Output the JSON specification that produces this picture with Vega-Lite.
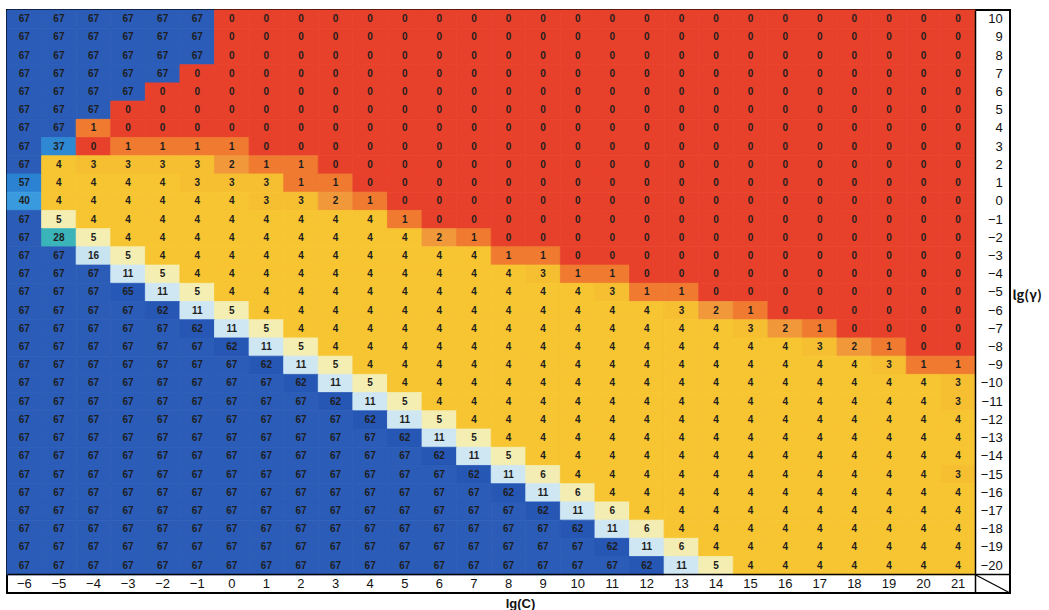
{
"$schema":"https://vega.github.io/schema/vega-lite/v6.json",
"width":1003,"height":583,"autosize":"none",
"padding":{"left":7,"top":10,"right":39,"bottom":17},
"background":"white",
"config":{"view":{"stroke":"black","strokeWidth":2},"font":"Liberation Sans"},
"data":{"values":[
{"C":-6,"g":10,"v":67},{"C":-5,"g":10,"v":67},{"C":-4,"g":10,"v":67},{"C":-3,"g":10,"v":67},{"C":-2,"g":10,"v":67},{"C":-1,"g":10,"v":67},{"C":0,"g":10,"v":0},{"C":1,"g":10,"v":0},{"C":2,"g":10,"v":0},{"C":3,"g":10,"v":0},{"C":4,"g":10,"v":0},{"C":5,"g":10,"v":0},{"C":6,"g":10,"v":0},{"C":7,"g":10,"v":0},{"C":8,"g":10,"v":0},{"C":9,"g":10,"v":0},{"C":10,"g":10,"v":0},{"C":11,"g":10,"v":0},{"C":12,"g":10,"v":0},{"C":13,"g":10,"v":0},{"C":14,"g":10,"v":0},{"C":15,"g":10,"v":0},{"C":16,"g":10,"v":0},{"C":17,"g":10,"v":0},{"C":18,"g":10,"v":0},{"C":19,"g":10,"v":0},{"C":20,"g":10,"v":0},{"C":21,"g":10,"v":0},
{"C":-6,"g":9,"v":67},{"C":-5,"g":9,"v":67},{"C":-4,"g":9,"v":67},{"C":-3,"g":9,"v":67},{"C":-2,"g":9,"v":67},{"C":-1,"g":9,"v":67},{"C":0,"g":9,"v":0},{"C":1,"g":9,"v":0},{"C":2,"g":9,"v":0},{"C":3,"g":9,"v":0},{"C":4,"g":9,"v":0},{"C":5,"g":9,"v":0},{"C":6,"g":9,"v":0},{"C":7,"g":9,"v":0},{"C":8,"g":9,"v":0},{"C":9,"g":9,"v":0},{"C":10,"g":9,"v":0},{"C":11,"g":9,"v":0},{"C":12,"g":9,"v":0},{"C":13,"g":9,"v":0},{"C":14,"g":9,"v":0},{"C":15,"g":9,"v":0},{"C":16,"g":9,"v":0},{"C":17,"g":9,"v":0},{"C":18,"g":9,"v":0},{"C":19,"g":9,"v":0},{"C":20,"g":9,"v":0},{"C":21,"g":9,"v":0},
{"C":-6,"g":8,"v":67},{"C":-5,"g":8,"v":67},{"C":-4,"g":8,"v":67},{"C":-3,"g":8,"v":67},{"C":-2,"g":8,"v":67},{"C":-1,"g":8,"v":67},{"C":0,"g":8,"v":0},{"C":1,"g":8,"v":0},{"C":2,"g":8,"v":0},{"C":3,"g":8,"v":0},{"C":4,"g":8,"v":0},{"C":5,"g":8,"v":0},{"C":6,"g":8,"v":0},{"C":7,"g":8,"v":0},{"C":8,"g":8,"v":0},{"C":9,"g":8,"v":0},{"C":10,"g":8,"v":0},{"C":11,"g":8,"v":0},{"C":12,"g":8,"v":0},{"C":13,"g":8,"v":0},{"C":14,"g":8,"v":0},{"C":15,"g":8,"v":0},{"C":16,"g":8,"v":0},{"C":17,"g":8,"v":0},{"C":18,"g":8,"v":0},{"C":19,"g":8,"v":0},{"C":20,"g":8,"v":0},{"C":21,"g":8,"v":0},
{"C":-6,"g":7,"v":67},{"C":-5,"g":7,"v":67},{"C":-4,"g":7,"v":67},{"C":-3,"g":7,"v":67},{"C":-2,"g":7,"v":67},{"C":-1,"g":7,"v":0},{"C":0,"g":7,"v":0},{"C":1,"g":7,"v":0},{"C":2,"g":7,"v":0},{"C":3,"g":7,"v":0},{"C":4,"g":7,"v":0},{"C":5,"g":7,"v":0},{"C":6,"g":7,"v":0},{"C":7,"g":7,"v":0},{"C":8,"g":7,"v":0},{"C":9,"g":7,"v":0},{"C":10,"g":7,"v":0},{"C":11,"g":7,"v":0},{"C":12,"g":7,"v":0},{"C":13,"g":7,"v":0},{"C":14,"g":7,"v":0},{"C":15,"g":7,"v":0},{"C":16,"g":7,"v":0},{"C":17,"g":7,"v":0},{"C":18,"g":7,"v":0},{"C":19,"g":7,"v":0},{"C":20,"g":7,"v":0},{"C":21,"g":7,"v":0},
{"C":-6,"g":6,"v":67},{"C":-5,"g":6,"v":67},{"C":-4,"g":6,"v":67},{"C":-3,"g":6,"v":67},{"C":-2,"g":6,"v":0},{"C":-1,"g":6,"v":0},{"C":0,"g":6,"v":0},{"C":1,"g":6,"v":0},{"C":2,"g":6,"v":0},{"C":3,"g":6,"v":0},{"C":4,"g":6,"v":0},{"C":5,"g":6,"v":0},{"C":6,"g":6,"v":0},{"C":7,"g":6,"v":0},{"C":8,"g":6,"v":0},{"C":9,"g":6,"v":0},{"C":10,"g":6,"v":0},{"C":11,"g":6,"v":0},{"C":12,"g":6,"v":0},{"C":13,"g":6,"v":0},{"C":14,"g":6,"v":0},{"C":15,"g":6,"v":0},{"C":16,"g":6,"v":0},{"C":17,"g":6,"v":0},{"C":18,"g":6,"v":0},{"C":19,"g":6,"v":0},{"C":20,"g":6,"v":0},{"C":21,"g":6,"v":0},
{"C":-6,"g":5,"v":67},{"C":-5,"g":5,"v":67},{"C":-4,"g":5,"v":67},{"C":-3,"g":5,"v":0},{"C":-2,"g":5,"v":0},{"C":-1,"g":5,"v":0},{"C":0,"g":5,"v":0},{"C":1,"g":5,"v":0},{"C":2,"g":5,"v":0},{"C":3,"g":5,"v":0},{"C":4,"g":5,"v":0},{"C":5,"g":5,"v":0},{"C":6,"g":5,"v":0},{"C":7,"g":5,"v":0},{"C":8,"g":5,"v":0},{"C":9,"g":5,"v":0},{"C":10,"g":5,"v":0},{"C":11,"g":5,"v":0},{"C":12,"g":5,"v":0},{"C":13,"g":5,"v":0},{"C":14,"g":5,"v":0},{"C":15,"g":5,"v":0},{"C":16,"g":5,"v":0},{"C":17,"g":5,"v":0},{"C":18,"g":5,"v":0},{"C":19,"g":5,"v":0},{"C":20,"g":5,"v":0},{"C":21,"g":5,"v":0},
{"C":-6,"g":4,"v":67},{"C":-5,"g":4,"v":67},{"C":-4,"g":4,"v":1},{"C":-3,"g":4,"v":0},{"C":-2,"g":4,"v":0},{"C":-1,"g":4,"v":0},{"C":0,"g":4,"v":0},{"C":1,"g":4,"v":0},{"C":2,"g":4,"v":0},{"C":3,"g":4,"v":0},{"C":4,"g":4,"v":0},{"C":5,"g":4,"v":0},{"C":6,"g":4,"v":0},{"C":7,"g":4,"v":0},{"C":8,"g":4,"v":0},{"C":9,"g":4,"v":0},{"C":10,"g":4,"v":0},{"C":11,"g":4,"v":0},{"C":12,"g":4,"v":0},{"C":13,"g":4,"v":0},{"C":14,"g":4,"v":0},{"C":15,"g":4,"v":0},{"C":16,"g":4,"v":0},{"C":17,"g":4,"v":0},{"C":18,"g":4,"v":0},{"C":19,"g":4,"v":0},{"C":20,"g":4,"v":0},{"C":21,"g":4,"v":0},
{"C":-6,"g":3,"v":67},{"C":-5,"g":3,"v":37},{"C":-4,"g":3,"v":0},{"C":-3,"g":3,"v":1},{"C":-2,"g":3,"v":1},{"C":-1,"g":3,"v":1},{"C":0,"g":3,"v":1},{"C":1,"g":3,"v":0},{"C":2,"g":3,"v":0},{"C":3,"g":3,"v":0},{"C":4,"g":3,"v":0},{"C":5,"g":3,"v":0},{"C":6,"g":3,"v":0},{"C":7,"g":3,"v":0},{"C":8,"g":3,"v":0},{"C":9,"g":3,"v":0},{"C":10,"g":3,"v":0},{"C":11,"g":3,"v":0},{"C":12,"g":3,"v":0},{"C":13,"g":3,"v":0},{"C":14,"g":3,"v":0},{"C":15,"g":3,"v":0},{"C":16,"g":3,"v":0},{"C":17,"g":3,"v":0},{"C":18,"g":3,"v":0},{"C":19,"g":3,"v":0},{"C":20,"g":3,"v":0},{"C":21,"g":3,"v":0},
{"C":-6,"g":2,"v":67},{"C":-5,"g":2,"v":4},{"C":-4,"g":2,"v":3},{"C":-3,"g":2,"v":3},{"C":-2,"g":2,"v":3},{"C":-1,"g":2,"v":3},{"C":0,"g":2,"v":2},{"C":1,"g":2,"v":1},{"C":2,"g":2,"v":1},{"C":3,"g":2,"v":0},{"C":4,"g":2,"v":0},{"C":5,"g":2,"v":0},{"C":6,"g":2,"v":0},{"C":7,"g":2,"v":0},{"C":8,"g":2,"v":0},{"C":9,"g":2,"v":0},{"C":10,"g":2,"v":0},{"C":11,"g":2,"v":0},{"C":12,"g":2,"v":0},{"C":13,"g":2,"v":0},{"C":14,"g":2,"v":0},{"C":15,"g":2,"v":0},{"C":16,"g":2,"v":0},{"C":17,"g":2,"v":0},{"C":18,"g":2,"v":0},{"C":19,"g":2,"v":0},{"C":20,"g":2,"v":0},{"C":21,"g":2,"v":0},
{"C":-6,"g":1,"v":57},{"C":-5,"g":1,"v":4},{"C":-4,"g":1,"v":4},{"C":-3,"g":1,"v":4},{"C":-2,"g":1,"v":4},{"C":-1,"g":1,"v":3},{"C":0,"g":1,"v":3},{"C":1,"g":1,"v":3},{"C":2,"g":1,"v":1},{"C":3,"g":1,"v":1},{"C":4,"g":1,"v":0},{"C":5,"g":1,"v":0},{"C":6,"g":1,"v":0},{"C":7,"g":1,"v":0},{"C":8,"g":1,"v":0},{"C":9,"g":1,"v":0},{"C":10,"g":1,"v":0},{"C":11,"g":1,"v":0},{"C":12,"g":1,"v":0},{"C":13,"g":1,"v":0},{"C":14,"g":1,"v":0},{"C":15,"g":1,"v":0},{"C":16,"g":1,"v":0},{"C":17,"g":1,"v":0},{"C":18,"g":1,"v":0},{"C":19,"g":1,"v":0},{"C":20,"g":1,"v":0},{"C":21,"g":1,"v":0},
{"C":-6,"g":0,"v":40},{"C":-5,"g":0,"v":4},{"C":-4,"g":0,"v":4},{"C":-3,"g":0,"v":4},{"C":-2,"g":0,"v":4},{"C":-1,"g":0,"v":4},{"C":0,"g":0,"v":4},{"C":1,"g":0,"v":3},{"C":2,"g":0,"v":3},{"C":3,"g":0,"v":2},{"C":4,"g":0,"v":1},{"C":5,"g":0,"v":0},{"C":6,"g":0,"v":0},{"C":7,"g":0,"v":0},{"C":8,"g":0,"v":0},{"C":9,"g":0,"v":0},{"C":10,"g":0,"v":0},{"C":11,"g":0,"v":0},{"C":12,"g":0,"v":0},{"C":13,"g":0,"v":0},{"C":14,"g":0,"v":0},{"C":15,"g":0,"v":0},{"C":16,"g":0,"v":0},{"C":17,"g":0,"v":0},{"C":18,"g":0,"v":0},{"C":19,"g":0,"v":0},{"C":20,"g":0,"v":0},{"C":21,"g":0,"v":0},
{"C":-6,"g":-1,"v":67},{"C":-5,"g":-1,"v":5},{"C":-4,"g":-1,"v":4},{"C":-3,"g":-1,"v":4},{"C":-2,"g":-1,"v":4},{"C":-1,"g":-1,"v":4},{"C":0,"g":-1,"v":4},{"C":1,"g":-1,"v":4},{"C":2,"g":-1,"v":4},{"C":3,"g":-1,"v":4},{"C":4,"g":-1,"v":4},{"C":5,"g":-1,"v":1},{"C":6,"g":-1,"v":0},{"C":7,"g":-1,"v":0},{"C":8,"g":-1,"v":0},{"C":9,"g":-1,"v":0},{"C":10,"g":-1,"v":0},{"C":11,"g":-1,"v":0},{"C":12,"g":-1,"v":0},{"C":13,"g":-1,"v":0},{"C":14,"g":-1,"v":0},{"C":15,"g":-1,"v":0},{"C":16,"g":-1,"v":0},{"C":17,"g":-1,"v":0},{"C":18,"g":-1,"v":0},{"C":19,"g":-1,"v":0},{"C":20,"g":-1,"v":0},{"C":21,"g":-1,"v":0},
{"C":-6,"g":-2,"v":67},{"C":-5,"g":-2,"v":28},{"C":-4,"g":-2,"v":5},{"C":-3,"g":-2,"v":4},{"C":-2,"g":-2,"v":4},{"C":-1,"g":-2,"v":4},{"C":0,"g":-2,"v":4},{"C":1,"g":-2,"v":4},{"C":2,"g":-2,"v":4},{"C":3,"g":-2,"v":4},{"C":4,"g":-2,"v":4},{"C":5,"g":-2,"v":4},{"C":6,"g":-2,"v":2},{"C":7,"g":-2,"v":1},{"C":8,"g":-2,"v":0},{"C":9,"g":-2,"v":0},{"C":10,"g":-2,"v":0},{"C":11,"g":-2,"v":0},{"C":12,"g":-2,"v":0},{"C":13,"g":-2,"v":0},{"C":14,"g":-2,"v":0},{"C":15,"g":-2,"v":0},{"C":16,"g":-2,"v":0},{"C":17,"g":-2,"v":0},{"C":18,"g":-2,"v":0},{"C":19,"g":-2,"v":0},{"C":20,"g":-2,"v":0},{"C":21,"g":-2,"v":0},
{"C":-6,"g":-3,"v":67},{"C":-5,"g":-3,"v":67},{"C":-4,"g":-3,"v":16},{"C":-3,"g":-3,"v":5},{"C":-2,"g":-3,"v":4},{"C":-1,"g":-3,"v":4},{"C":0,"g":-3,"v":4},{"C":1,"g":-3,"v":4},{"C":2,"g":-3,"v":4},{"C":3,"g":-3,"v":4},{"C":4,"g":-3,"v":4},{"C":5,"g":-3,"v":4},{"C":6,"g":-3,"v":4},{"C":7,"g":-3,"v":4},{"C":8,"g":-3,"v":1},{"C":9,"g":-3,"v":1},{"C":10,"g":-3,"v":0},{"C":11,"g":-3,"v":0},{"C":12,"g":-3,"v":0},{"C":13,"g":-3,"v":0},{"C":14,"g":-3,"v":0},{"C":15,"g":-3,"v":0},{"C":16,"g":-3,"v":0},{"C":17,"g":-3,"v":0},{"C":18,"g":-3,"v":0},{"C":19,"g":-3,"v":0},{"C":20,"g":-3,"v":0},{"C":21,"g":-3,"v":0},
{"C":-6,"g":-4,"v":67},{"C":-5,"g":-4,"v":67},{"C":-4,"g":-4,"v":67},{"C":-3,"g":-4,"v":11},{"C":-2,"g":-4,"v":5},{"C":-1,"g":-4,"v":4},{"C":0,"g":-4,"v":4},{"C":1,"g":-4,"v":4},{"C":2,"g":-4,"v":4},{"C":3,"g":-4,"v":4},{"C":4,"g":-4,"v":4},{"C":5,"g":-4,"v":4},{"C":6,"g":-4,"v":4},{"C":7,"g":-4,"v":4},{"C":8,"g":-4,"v":4},{"C":9,"g":-4,"v":3},{"C":10,"g":-4,"v":1},{"C":11,"g":-4,"v":1},{"C":12,"g":-4,"v":0},{"C":13,"g":-4,"v":0},{"C":14,"g":-4,"v":0},{"C":15,"g":-4,"v":0},{"C":16,"g":-4,"v":0},{"C":17,"g":-4,"v":0},{"C":18,"g":-4,"v":0},{"C":19,"g":-4,"v":0},{"C":20,"g":-4,"v":0},{"C":21,"g":-4,"v":0},
{"C":-6,"g":-5,"v":67},{"C":-5,"g":-5,"v":67},{"C":-4,"g":-5,"v":67},{"C":-3,"g":-5,"v":65},{"C":-2,"g":-5,"v":11},{"C":-1,"g":-5,"v":5},{"C":0,"g":-5,"v":4},{"C":1,"g":-5,"v":4},{"C":2,"g":-5,"v":4},{"C":3,"g":-5,"v":4},{"C":4,"g":-5,"v":4},{"C":5,"g":-5,"v":4},{"C":6,"g":-5,"v":4},{"C":7,"g":-5,"v":4},{"C":8,"g":-5,"v":4},{"C":9,"g":-5,"v":4},{"C":10,"g":-5,"v":4},{"C":11,"g":-5,"v":3},{"C":12,"g":-5,"v":1},{"C":13,"g":-5,"v":1},{"C":14,"g":-5,"v":0},{"C":15,"g":-5,"v":0},{"C":16,"g":-5,"v":0},{"C":17,"g":-5,"v":0},{"C":18,"g":-5,"v":0},{"C":19,"g":-5,"v":0},{"C":20,"g":-5,"v":0},{"C":21,"g":-5,"v":0},
{"C":-6,"g":-6,"v":67},{"C":-5,"g":-6,"v":67},{"C":-4,"g":-6,"v":67},{"C":-3,"g":-6,"v":67},{"C":-2,"g":-6,"v":62},{"C":-1,"g":-6,"v":11},{"C":0,"g":-6,"v":5},{"C":1,"g":-6,"v":4},{"C":2,"g":-6,"v":4},{"C":3,"g":-6,"v":4},{"C":4,"g":-6,"v":4},{"C":5,"g":-6,"v":4},{"C":6,"g":-6,"v":4},{"C":7,"g":-6,"v":4},{"C":8,"g":-6,"v":4},{"C":9,"g":-6,"v":4},{"C":10,"g":-6,"v":4},{"C":11,"g":-6,"v":4},{"C":12,"g":-6,"v":4},{"C":13,"g":-6,"v":3},{"C":14,"g":-6,"v":2},{"C":15,"g":-6,"v":1},{"C":16,"g":-6,"v":0},{"C":17,"g":-6,"v":0},{"C":18,"g":-6,"v":0},{"C":19,"g":-6,"v":0},{"C":20,"g":-6,"v":0},{"C":21,"g":-6,"v":0},
{"C":-6,"g":-7,"v":67},{"C":-5,"g":-7,"v":67},{"C":-4,"g":-7,"v":67},{"C":-3,"g":-7,"v":67},{"C":-2,"g":-7,"v":67},{"C":-1,"g":-7,"v":62},{"C":0,"g":-7,"v":11},{"C":1,"g":-7,"v":5},{"C":2,"g":-7,"v":4},{"C":3,"g":-7,"v":4},{"C":4,"g":-7,"v":4},{"C":5,"g":-7,"v":4},{"C":6,"g":-7,"v":4},{"C":7,"g":-7,"v":4},{"C":8,"g":-7,"v":4},{"C":9,"g":-7,"v":4},{"C":10,"g":-7,"v":4},{"C":11,"g":-7,"v":4},{"C":12,"g":-7,"v":4},{"C":13,"g":-7,"v":4},{"C":14,"g":-7,"v":4},{"C":15,"g":-7,"v":3},{"C":16,"g":-7,"v":2},{"C":17,"g":-7,"v":1},{"C":18,"g":-7,"v":0},{"C":19,"g":-7,"v":0},{"C":20,"g":-7,"v":0},{"C":21,"g":-7,"v":0},
{"C":-6,"g":-8,"v":67},{"C":-5,"g":-8,"v":67},{"C":-4,"g":-8,"v":67},{"C":-3,"g":-8,"v":67},{"C":-2,"g":-8,"v":67},{"C":-1,"g":-8,"v":67},{"C":0,"g":-8,"v":62},{"C":1,"g":-8,"v":11},{"C":2,"g":-8,"v":5},{"C":3,"g":-8,"v":4},{"C":4,"g":-8,"v":4},{"C":5,"g":-8,"v":4},{"C":6,"g":-8,"v":4},{"C":7,"g":-8,"v":4},{"C":8,"g":-8,"v":4},{"C":9,"g":-8,"v":4},{"C":10,"g":-8,"v":4},{"C":11,"g":-8,"v":4},{"C":12,"g":-8,"v":4},{"C":13,"g":-8,"v":4},{"C":14,"g":-8,"v":4},{"C":15,"g":-8,"v":4},{"C":16,"g":-8,"v":4},{"C":17,"g":-8,"v":3},{"C":18,"g":-8,"v":2},{"C":19,"g":-8,"v":1},{"C":20,"g":-8,"v":0},{"C":21,"g":-8,"v":0},
{"C":-6,"g":-9,"v":67},{"C":-5,"g":-9,"v":67},{"C":-4,"g":-9,"v":67},{"C":-3,"g":-9,"v":67},{"C":-2,"g":-9,"v":67},{"C":-1,"g":-9,"v":67},{"C":0,"g":-9,"v":67},{"C":1,"g":-9,"v":62},{"C":2,"g":-9,"v":11},{"C":3,"g":-9,"v":5},{"C":4,"g":-9,"v":4},{"C":5,"g":-9,"v":4},{"C":6,"g":-9,"v":4},{"C":7,"g":-9,"v":4},{"C":8,"g":-9,"v":4},{"C":9,"g":-9,"v":4},{"C":10,"g":-9,"v":4},{"C":11,"g":-9,"v":4},{"C":12,"g":-9,"v":4},{"C":13,"g":-9,"v":4},{"C":14,"g":-9,"v":4},{"C":15,"g":-9,"v":4},{"C":16,"g":-9,"v":4},{"C":17,"g":-9,"v":4},{"C":18,"g":-9,"v":4},{"C":19,"g":-9,"v":3},{"C":20,"g":-9,"v":1},{"C":21,"g":-9,"v":1},
{"C":-6,"g":-10,"v":67},{"C":-5,"g":-10,"v":67},{"C":-4,"g":-10,"v":67},{"C":-3,"g":-10,"v":67},{"C":-2,"g":-10,"v":67},{"C":-1,"g":-10,"v":67},{"C":0,"g":-10,"v":67},{"C":1,"g":-10,"v":67},{"C":2,"g":-10,"v":62},{"C":3,"g":-10,"v":11},{"C":4,"g":-10,"v":5},{"C":5,"g":-10,"v":4},{"C":6,"g":-10,"v":4},{"C":7,"g":-10,"v":4},{"C":8,"g":-10,"v":4},{"C":9,"g":-10,"v":4},{"C":10,"g":-10,"v":4},{"C":11,"g":-10,"v":4},{"C":12,"g":-10,"v":4},{"C":13,"g":-10,"v":4},{"C":14,"g":-10,"v":4},{"C":15,"g":-10,"v":4},{"C":16,"g":-10,"v":4},{"C":17,"g":-10,"v":4},{"C":18,"g":-10,"v":4},{"C":19,"g":-10,"v":4},{"C":20,"g":-10,"v":4},{"C":21,"g":-10,"v":3},
{"C":-6,"g":-11,"v":67},{"C":-5,"g":-11,"v":67},{"C":-4,"g":-11,"v":67},{"C":-3,"g":-11,"v":67},{"C":-2,"g":-11,"v":67},{"C":-1,"g":-11,"v":67},{"C":0,"g":-11,"v":67},{"C":1,"g":-11,"v":67},{"C":2,"g":-11,"v":67},{"C":3,"g":-11,"v":62},{"C":4,"g":-11,"v":11},{"C":5,"g":-11,"v":5},{"C":6,"g":-11,"v":4},{"C":7,"g":-11,"v":4},{"C":8,"g":-11,"v":4},{"C":9,"g":-11,"v":4},{"C":10,"g":-11,"v":4},{"C":11,"g":-11,"v":4},{"C":12,"g":-11,"v":4},{"C":13,"g":-11,"v":4},{"C":14,"g":-11,"v":4},{"C":15,"g":-11,"v":4},{"C":16,"g":-11,"v":4},{"C":17,"g":-11,"v":4},{"C":18,"g":-11,"v":4},{"C":19,"g":-11,"v":4},{"C":20,"g":-11,"v":4},{"C":21,"g":-11,"v":3},
{"C":-6,"g":-12,"v":67},{"C":-5,"g":-12,"v":67},{"C":-4,"g":-12,"v":67},{"C":-3,"g":-12,"v":67},{"C":-2,"g":-12,"v":67},{"C":-1,"g":-12,"v":67},{"C":0,"g":-12,"v":67},{"C":1,"g":-12,"v":67},{"C":2,"g":-12,"v":67},{"C":3,"g":-12,"v":67},{"C":4,"g":-12,"v":62},{"C":5,"g":-12,"v":11},{"C":6,"g":-12,"v":5},{"C":7,"g":-12,"v":4},{"C":8,"g":-12,"v":4},{"C":9,"g":-12,"v":4},{"C":10,"g":-12,"v":4},{"C":11,"g":-12,"v":4},{"C":12,"g":-12,"v":4},{"C":13,"g":-12,"v":4},{"C":14,"g":-12,"v":4},{"C":15,"g":-12,"v":4},{"C":16,"g":-12,"v":4},{"C":17,"g":-12,"v":4},{"C":18,"g":-12,"v":4},{"C":19,"g":-12,"v":4},{"C":20,"g":-12,"v":4},{"C":21,"g":-12,"v":4},
{"C":-6,"g":-13,"v":67},{"C":-5,"g":-13,"v":67},{"C":-4,"g":-13,"v":67},{"C":-3,"g":-13,"v":67},{"C":-2,"g":-13,"v":67},{"C":-1,"g":-13,"v":67},{"C":0,"g":-13,"v":67},{"C":1,"g":-13,"v":67},{"C":2,"g":-13,"v":67},{"C":3,"g":-13,"v":67},{"C":4,"g":-13,"v":67},{"C":5,"g":-13,"v":62},{"C":6,"g":-13,"v":11},{"C":7,"g":-13,"v":5},{"C":8,"g":-13,"v":4},{"C":9,"g":-13,"v":4},{"C":10,"g":-13,"v":4},{"C":11,"g":-13,"v":4},{"C":12,"g":-13,"v":4},{"C":13,"g":-13,"v":4},{"C":14,"g":-13,"v":4},{"C":15,"g":-13,"v":4},{"C":16,"g":-13,"v":4},{"C":17,"g":-13,"v":4},{"C":18,"g":-13,"v":4},{"C":19,"g":-13,"v":4},{"C":20,"g":-13,"v":4},{"C":21,"g":-13,"v":4},
{"C":-6,"g":-14,"v":67},{"C":-5,"g":-14,"v":67},{"C":-4,"g":-14,"v":67},{"C":-3,"g":-14,"v":67},{"C":-2,"g":-14,"v":67},{"C":-1,"g":-14,"v":67},{"C":0,"g":-14,"v":67},{"C":1,"g":-14,"v":67},{"C":2,"g":-14,"v":67},{"C":3,"g":-14,"v":67},{"C":4,"g":-14,"v":67},{"C":5,"g":-14,"v":67},{"C":6,"g":-14,"v":62},{"C":7,"g":-14,"v":11},{"C":8,"g":-14,"v":5},{"C":9,"g":-14,"v":4},{"C":10,"g":-14,"v":4},{"C":11,"g":-14,"v":4},{"C":12,"g":-14,"v":4},{"C":13,"g":-14,"v":4},{"C":14,"g":-14,"v":4},{"C":15,"g":-14,"v":4},{"C":16,"g":-14,"v":4},{"C":17,"g":-14,"v":4},{"C":18,"g":-14,"v":4},{"C":19,"g":-14,"v":4},{"C":20,"g":-14,"v":4},{"C":21,"g":-14,"v":4},
{"C":-6,"g":-15,"v":67},{"C":-5,"g":-15,"v":67},{"C":-4,"g":-15,"v":67},{"C":-3,"g":-15,"v":67},{"C":-2,"g":-15,"v":67},{"C":-1,"g":-15,"v":67},{"C":0,"g":-15,"v":67},{"C":1,"g":-15,"v":67},{"C":2,"g":-15,"v":67},{"C":3,"g":-15,"v":67},{"C":4,"g":-15,"v":67},{"C":5,"g":-15,"v":67},{"C":6,"g":-15,"v":67},{"C":7,"g":-15,"v":62},{"C":8,"g":-15,"v":11},{"C":9,"g":-15,"v":6},{"C":10,"g":-15,"v":4},{"C":11,"g":-15,"v":4},{"C":12,"g":-15,"v":4},{"C":13,"g":-15,"v":4},{"C":14,"g":-15,"v":4},{"C":15,"g":-15,"v":4},{"C":16,"g":-15,"v":4},{"C":17,"g":-15,"v":4},{"C":18,"g":-15,"v":4},{"C":19,"g":-15,"v":4},{"C":20,"g":-15,"v":4},{"C":21,"g":-15,"v":3},
{"C":-6,"g":-16,"v":67},{"C":-5,"g":-16,"v":67},{"C":-4,"g":-16,"v":67},{"C":-3,"g":-16,"v":67},{"C":-2,"g":-16,"v":67},{"C":-1,"g":-16,"v":67},{"C":0,"g":-16,"v":67},{"C":1,"g":-16,"v":67},{"C":2,"g":-16,"v":67},{"C":3,"g":-16,"v":67},{"C":4,"g":-16,"v":67},{"C":5,"g":-16,"v":67},{"C":6,"g":-16,"v":67},{"C":7,"g":-16,"v":67},{"C":8,"g":-16,"v":62},{"C":9,"g":-16,"v":11},{"C":10,"g":-16,"v":6},{"C":11,"g":-16,"v":4},{"C":12,"g":-16,"v":4},{"C":13,"g":-16,"v":4},{"C":14,"g":-16,"v":4},{"C":15,"g":-16,"v":4},{"C":16,"g":-16,"v":4},{"C":17,"g":-16,"v":4},{"C":18,"g":-16,"v":4},{"C":19,"g":-16,"v":4},{"C":20,"g":-16,"v":4},{"C":21,"g":-16,"v":4},
{"C":-6,"g":-17,"v":67},{"C":-5,"g":-17,"v":67},{"C":-4,"g":-17,"v":67},{"C":-3,"g":-17,"v":67},{"C":-2,"g":-17,"v":67},{"C":-1,"g":-17,"v":67},{"C":0,"g":-17,"v":67},{"C":1,"g":-17,"v":67},{"C":2,"g":-17,"v":67},{"C":3,"g":-17,"v":67},{"C":4,"g":-17,"v":67},{"C":5,"g":-17,"v":67},{"C":6,"g":-17,"v":67},{"C":7,"g":-17,"v":67},{"C":8,"g":-17,"v":67},{"C":9,"g":-17,"v":62},{"C":10,"g":-17,"v":11},{"C":11,"g":-17,"v":6},{"C":12,"g":-17,"v":4},{"C":13,"g":-17,"v":4},{"C":14,"g":-17,"v":4},{"C":15,"g":-17,"v":4},{"C":16,"g":-17,"v":4},{"C":17,"g":-17,"v":4},{"C":18,"g":-17,"v":4},{"C":19,"g":-17,"v":4},{"C":20,"g":-17,"v":4},{"C":21,"g":-17,"v":4},
{"C":-6,"g":-18,"v":67},{"C":-5,"g":-18,"v":67},{"C":-4,"g":-18,"v":67},{"C":-3,"g":-18,"v":67},{"C":-2,"g":-18,"v":67},{"C":-1,"g":-18,"v":67},{"C":0,"g":-18,"v":67},{"C":1,"g":-18,"v":67},{"C":2,"g":-18,"v":67},{"C":3,"g":-18,"v":67},{"C":4,"g":-18,"v":67},{"C":5,"g":-18,"v":67},{"C":6,"g":-18,"v":67},{"C":7,"g":-18,"v":67},{"C":8,"g":-18,"v":67},{"C":9,"g":-18,"v":67},{"C":10,"g":-18,"v":62},{"C":11,"g":-18,"v":11},{"C":12,"g":-18,"v":6},{"C":13,"g":-18,"v":4},{"C":14,"g":-18,"v":4},{"C":15,"g":-18,"v":4},{"C":16,"g":-18,"v":4},{"C":17,"g":-18,"v":4},{"C":18,"g":-18,"v":4},{"C":19,"g":-18,"v":4},{"C":20,"g":-18,"v":4},{"C":21,"g":-18,"v":4},
{"C":-6,"g":-19,"v":67},{"C":-5,"g":-19,"v":67},{"C":-4,"g":-19,"v":67},{"C":-3,"g":-19,"v":67},{"C":-2,"g":-19,"v":67},{"C":-1,"g":-19,"v":67},{"C":0,"g":-19,"v":67},{"C":1,"g":-19,"v":67},{"C":2,"g":-19,"v":67},{"C":3,"g":-19,"v":67},{"C":4,"g":-19,"v":67},{"C":5,"g":-19,"v":67},{"C":6,"g":-19,"v":67},{"C":7,"g":-19,"v":67},{"C":8,"g":-19,"v":67},{"C":9,"g":-19,"v":67},{"C":10,"g":-19,"v":67},{"C":11,"g":-19,"v":62},{"C":12,"g":-19,"v":11},{"C":13,"g":-19,"v":6},{"C":14,"g":-19,"v":4},{"C":15,"g":-19,"v":4},{"C":16,"g":-19,"v":4},{"C":17,"g":-19,"v":4},{"C":18,"g":-19,"v":4},{"C":19,"g":-19,"v":4},{"C":20,"g":-19,"v":4},{"C":21,"g":-19,"v":4},
{"C":-6,"g":-20,"v":67},{"C":-5,"g":-20,"v":67},{"C":-4,"g":-20,"v":67},{"C":-3,"g":-20,"v":67},{"C":-2,"g":-20,"v":67},{"C":-1,"g":-20,"v":67},{"C":0,"g":-20,"v":67},{"C":1,"g":-20,"v":67},{"C":2,"g":-20,"v":67},{"C":3,"g":-20,"v":67},{"C":4,"g":-20,"v":67},{"C":5,"g":-20,"v":67},{"C":6,"g":-20,"v":67},{"C":7,"g":-20,"v":67},{"C":8,"g":-20,"v":67},{"C":9,"g":-20,"v":67},{"C":10,"g":-20,"v":67},{"C":11,"g":-20,"v":67},{"C":12,"g":-20,"v":62},{"C":13,"g":-20,"v":11},{"C":14,"g":-20,"v":5},{"C":15,"g":-20,"v":4},{"C":16,"g":-20,"v":4},{"C":17,"g":-20,"v":4},{"C":18,"g":-20,"v":4},{"C":19,"g":-20,"v":4},{"C":20,"g":-20,"v":4},{"C":21,"g":-20,"v":4}
]},
"layer":[
{"mark":{"type":"rect","strokeWidth":0.8},
 "encoding":{
  "x":{"field":"C","type":"ordinal","scale":{"domain":[-6,-5,-4,-3,-2,-1,0,1,2,3,4,5,6,7,8,9,10,11,12,13,14,15,16,17,18,19,20,21,"lab"],"paddingInner":0,"paddingOuter":0},
   "axis":{"orient":"bottom","values":["lab"],"bandPosition":0,"grid":true,"gridColor":"black","gridWidth":1.5,"gridOpacity":1,"labels":false,"ticks":false,"domain":false,"title":"lg(C)","titleFontSize":13,"titleFontWeight":"bold","titleColor":"#111","titleX":513,"titleY":10,"titleBaseline":"middle"}},
  "y":{"field":"g","type":"ordinal","scale":{"domain":[10,9,8,7,6,5,4,3,2,1,0,-1,-2,-3,-4,-5,-6,-7,-8,-9,-10,-11,-12,-13,-14,-15,-16,-17,-18,-19,-20,"lab"],"paddingInner":0,"paddingOuter":0},
   "axis":{"orient":"right","values":["lab"],"bandPosition":0,"grid":true,"gridColor":"black","gridWidth":1.5,"gridOpacity":1,"labels":false,"ticks":false,"domain":false,"title":"lg(γ)","titleFont":"Noto Sans CJK JP","titleFontSize":13,"titleFontWeight":"bold","titleColor":"#111","titleAngle":0,"titleAlign":"left","titleBaseline":"middle","titleX":2,"titleY":285}},
  "color":{"field":"v","type":"ordinal","legend":null,
   "scale":{"domain":[0,1,2,3,4,5,6,11,16,28,37,40,57,62,65,67],
    "range":["#e8412b","#ef7a30","#f0983a","#f6bf31","#f7c531","#f4eeb2","#f3edb4","#cfe7f3","#c8e4f1","#3ab3b9","#2f88d2","#3a9ade","#2c82d2","#2657b5","#2659b7","#2b5db8"]}},
  "stroke":{"field":"v","type":"ordinal","legend":null,
   "scale":{"domain":[0,1,2,3,4,5,6,11,16,28,37,40,57,62,65,67],
    "range":["#e8412b","#ef7a30","#f0983a","#f6bf31","#f7c531","#f4eeb2","#f3edb4","#cfe7f3","#c8e4f1","#3ab3b9","#2f88d2","#3a9ade","#2c82d2","#2657b5","#2659b7","#2b5db8"]}}
 }},
{"mark":{"type":"text","fontSize":10,"fontWeight":"bold","color":"#1e1e1e","font":"Liberation Sans"},
 "encoding":{"x":{"field":"C","type":"ordinal"},"y":{"field":"g","type":"ordinal"},"text":{"field":"v","type":"quantitative"}}},
{"transform":[{"aggregate":[{"op":"count","as":"n"}],"groupby":["C"]}],
 "mark":{"type":"text","fontSize":13,"color":"#111","font":"Liberation Sans"},
 "encoding":{"x":{"field":"C","type":"ordinal"},"y":{"datum":"lab","type":"ordinal"},"text":{"field":"C","type":"quantitative","format":"d"}}},
{"transform":[{"aggregate":[{"op":"count","as":"n"}],"groupby":["g"]}],
 "mark":{"type":"text","fontSize":13,"color":"#111","font":"Liberation Sans","align":"right","dx":10},
 "encoding":{"x":{"datum":"lab","type":"ordinal"},"y":{"field":"g","type":"ordinal"},"text":{"field":"g","type":"quantitative","format":"d"}}},
{"transform":[{"aggregate":[{"op":"count","as":"n"}]}],
 "mark":{"type":"rule","color":"black","strokeWidth":1.2},
 "encoding":{"x":{"datum":"lab","type":"ordinal","bandPosition":0},"y":{"datum":"lab","type":"ordinal","bandPosition":0},"x2":{"datum":"lab","bandPosition":1},"y2":{"datum":"lab","bandPosition":1}}}
]
}
